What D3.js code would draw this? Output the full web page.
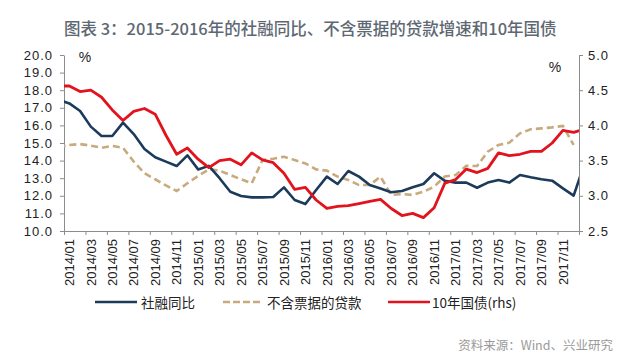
<!DOCTYPE html>
<html><head><meta charset="utf-8">
<script src="https://cdn.jsdelivr.net/npm/d3@7"></script>
<style>
html,body{margin:0;padding:0;background:#fff;}
svg{display:block;}
</style></head>
<body><svg id="c" width="640" height="360"></svg>
<script>
// Months from 2013/12 to 2018/01 (first and last are partly outside the visible axis range)
const months = ["2013/12",
 "2014/01","2014/02","2014/03","2014/04","2014/05","2014/06","2014/07","2014/08","2014/09","2014/10","2014/11","2014/12",
 "2015/01","2015/02","2015/03","2015/04","2015/05","2015/06","2015/07","2015/08","2015/09","2015/10","2015/11","2015/12",
 "2016/01","2016/02","2016/03","2016/04","2016/05","2016/06","2016/07","2016/08","2016/09","2016/10","2016/11","2016/12",
 "2017/01","2017/02","2017/03","2017/04","2017/05","2017/06","2017/07","2017/08","2017/09","2017/10","2017/11","2017/12",
 "2018/01"];
const tsf = [17.45,
 17.25,16.82,15.93,15.40,15.40,16.16,15.51,14.66,14.19,13.94,13.69,14.30,
 13.50,13.70,13.00,12.23,11.99,11.91,11.91,11.93,12.48,11.76,11.53,12.33,
 13.09,12.67,13.41,13.09,12.61,12.42,12.20,12.27,12.48,12.67,13.28,12.85,
 12.75,12.75,12.46,12.75,12.90,12.75,13.18,13.05,12.94,12.86,12.42,12.01,
 13.80];
const loans = [14.75,
 14.89,14.94,14.85,14.73,14.83,14.73,13.94,13.28,12.94,12.59,12.27,12.71,
 13.13,13.50,13.43,13.18,12.94,12.71,14.03,14.11,14.22,14.03,13.84,13.50,
 13.43,13.09,12.90,12.61,12.61,13.09,12.05,12.10,12.05,12.23,12.52,13.10,
 13.18,13.70,13.69,14.51,14.89,15.02,15.55,15.78,15.83,15.89,15.97,14.89,
 null];
const cgb10 = [4.56,
 4.56,4.48,4.50,4.40,4.22,4.07,4.20,4.24,4.16,3.86,3.59,3.68,
 3.52,3.40,3.50,3.52,3.44,3.61,3.51,3.47,3.32,3.09,3.12,2.94,
 2.82,2.85,2.86,2.89,2.92,2.95,2.82,2.72,2.75,2.69,2.83,3.18,
 3.23,3.38,3.33,3.39,3.61,3.57,3.59,3.63,3.63,3.75,3.93,3.90,
 3.95];
const xTickLabels = ["2014/01","2014/03","2014/05","2014/07","2014/09","2014/11",
 "2015/01","2015/03","2015/05","2015/07","2015/09","2015/11",
 "2016/01","2016/03","2016/05","2016/07","2016/09","2016/11",
 "2017/01","2017/03","2017/05","2017/07","2017/09","2017/11"];
const leftTicks = [10,11,12,13,14,15,16,17,18,19,20];
const rightTicks = [2.5,3.0,3.5,4.0,4.5,5.0];
const seriesNames = ["社融同比","不含票据的贷款","10年国债(rhs)"];

const L = 64, R = 579, T = 55, B = 231;
const svg = d3.select("#c");
const nBands = 48; // 2014/01 .. 2017/12
const x = d3.scaleLinear().domain([0, nBands]).range([L, R]);
const yL = d3.scaleLinear().domain([10, 20]).range([B, T]);
const yR = d3.scaleLinear().domain([2.5, 5]).range([B, T]);
const idx = m => months.indexOf(m) - 1; // 2014/01 -> 0
const xc = m => x(idx(m) + 0.5);

const axisColor = "#8c8c8c";
const numFont = "'Liberation Sans', Arial, sans-serif";
const cjkFont = "'Noto Sans CJK SC', 'Noto Sans', sans-serif";

// Title
svg.append("text").attr("x", 64).attr("y", 28).attr("dominant-baseline","central")
  .attr("font-family", cjkFont).attr("font-size", 16.5).attr("font-weight", 500)
  .attr("fill", "#5e6872").text("图表 3：2015-2016年的社融同比、不含票据的贷款增速和10年国债");

// Clip
svg.append("clipPath").attr("id","clip").append("rect")
  .attr("x", L).attr("y", 0).attr("width", R - L).attr("height", B);

// Left axis
const gl = svg.append("g").attr("transform", `translate(${L},0)`)
  .call(d3.axisLeft(yL).tickValues(leftTicks).tickSize(4).tickSizeOuter(0).tickPadding(7)
    .tickFormat(d3.format(".1f")));
// Right axis
const gr = svg.append("g").attr("transform", `translate(${R},0)`)
  .call(d3.axisRight(yR).tickValues(rightTicks).tickSize(4).tickSizeOuter(0).tickPadding(5)
    .tickFormat(d3.format(".1f")));
// Bottom axis (ticks at band boundaries every 2 months)
const boundaries = d3.range(0, nBands + 1, 2);
const gb = svg.append("g").attr("transform", `translate(0,${B})`)
  .call(d3.axisBottom(x).tickValues(boundaries).tickSize(4).tickSizeOuter(0).tickFormat(""));

[gl, gr, gb].forEach(g => {
  g.selectAll(".domain").attr("stroke", axisColor);
  g.selectAll(".tick line").attr("stroke", axisColor);
  g.selectAll("text").attr("font-family", numFont).attr("font-size", 13)
    .attr("letter-spacing", 1).attr("fill", "#222");
});

// X labels, rotated, centred on the labelled month
svg.append("g").selectAll("text").data(xTickLabels).join("text")
  .attr("transform", d => `translate(${xc(d)},${B + 8}) rotate(-90)`)
  .attr("text-anchor", "end").attr("dy", "0.36em")
  .attr("font-family", numFont).attr("font-size", 13).attr("fill", "#222")
  .text(d => d);

// Unit labels
svg.append("text").attr("x", 85).attr("y", 57).attr("text-anchor","middle").attr("dominant-baseline","central")
  .attr("font-family", numFont).attr("font-size", 14).attr("fill","#222").text("%");
svg.append("text").attr("x", 555).attr("y", 67).attr("text-anchor","middle").attr("dominant-baseline","central")
  .attr("font-family", numFont).attr("font-size", 14).attr("fill","#222").text("%");

// Lines
const plot = svg.append("g").attr("clip-path", "url(#clip)");
const mk = (vals, ys) => d3.line()
  .defined((d, i) => vals[i] != null)
  .x((d, i) => xc(months[i]))
  .y((d, i) => ys(vals[i]));

const colors = { tsf: "#1c3a5a", loans: "#c7aa7d", cgb: "#e2131d" };

plot.append("path").datum(loans).attr("d", mk(loans, yL)).attr("fill","none")
  .attr("stroke", colors.loans).attr("stroke-width", 2.6).attr("stroke-dasharray","7,4");
plot.append("path").datum(tsf).attr("d", mk(tsf, yL)).attr("fill","none")
  .attr("stroke", colors.tsf).attr("stroke-width", 2.6).attr("stroke-linejoin","round");
plot.append("path").datum(cgb10).attr("d", mk(cgb10, yR)).attr("fill","none")
  .attr("stroke", colors.cgb).attr("stroke-width", 2.8).attr("stroke-linejoin","round");

// Legend
const legendY = 302;
const legend = [
  { name: seriesNames[0], c: colors.tsf, x1: 95, x2: 137, tx: 141, dash: null },
  { name: seriesNames[1], c: colors.loans, x1: 223, x2: 263, tx: 267, dash: "7,3" },
  { name: seriesNames[2], c: colors.cgb, x1: 388, x2: 430, tx: 432, dash: null }
];
const lg = svg.append("g");
legend.forEach(d => {
  lg.append("line").attr("x1", d.x1).attr("x2", d.x2).attr("y1", legendY).attr("y2", legendY)
    .attr("stroke", d.c).attr("stroke-width", 2.6).attr("stroke-dasharray", d.dash);
  lg.append("text").attr("x", d.tx).attr("y", legendY).attr("dominant-baseline","central")
    .attr("font-family", cjkFont).attr("font-size", 13.5).attr("fill","#222").text(d.name);
});

// Source
svg.append("text").attr("x", 613).attr("y", 344).attr("text-anchor","end").attr("dominant-baseline","central")
  .attr("font-family", cjkFont).attr("font-size", 12.5).attr("fill","#9a9a9a").text("资料来源：Wind、兴业研究");
</script></body></html>
